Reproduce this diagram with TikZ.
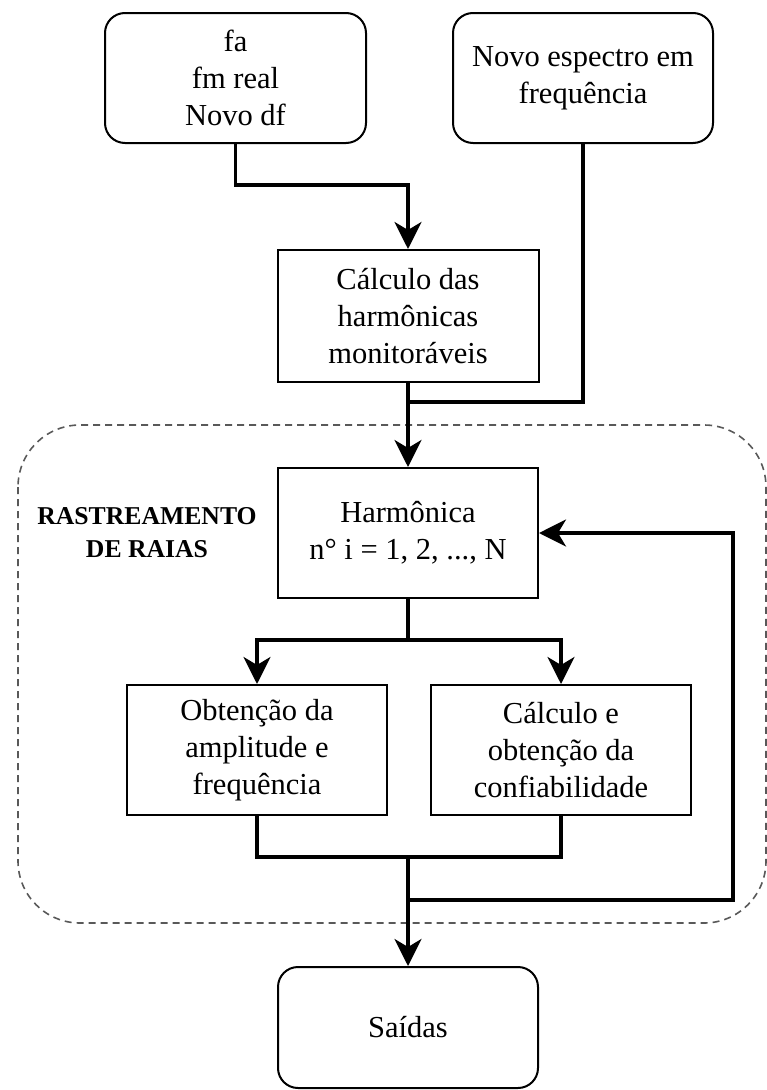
\documentclass[tikz,border=0pt]{standalone}
\usepackage{fontspec}
\setmainfont{Liberation Serif}
\usetikzlibrary{arrows.meta}
\begin{document}
\begin{tikzpicture}[x=1pt,y=-1pt,
  box/.style={draw,line width=2pt,fill=white,inner sep=0pt,minimum width=261pt,minimum height=130pt,align=center,font=\fontsize{30.5}{37}\selectfont},
  rbox/.style={box,rounded corners=20pt},
  conn/.style={line width=3.6pt},
  arr/.style={conn,-{Stealth[length=27pt,width=27pt,inset=8pt]}},
  region/.style={draw=black!65,dash pattern=on 7pt off 5pt,line width=1.6pt,rounded corners=62pt},
  lbl/.style={align=center,font=\fontsize{25.7}{33}\selectfont\bfseries}]
\useasboundingbox (0,0) rectangle (767,1090);
% dashed region
\draw[region] (18,425) rectangle (766,923);
\node[lbl] (rl) at (147,533) {RASTREAMENTO\\DE RAIAS};
% nodes
\node[rbox] (tl) at (235.5,78) {fa\\fm real\\Novo df};
\node[rbox,minimum width=260pt] (tr) at (583,78) {Novo espectro em\\frequência};
\node[box,minimum height=132pt] (calc) at (408,316) {Cálculo das\\harmônicas\\monitoráveis};
\node[box,minimum width=260pt] (harm) at (408,533) {Harmônica\\n° i = 1, 2, ..., N};
\node[box,minimum width=260pt] (left) at (257,750) {Obtenção da\\amplitude e\\frequência};
\node[box,minimum width=260pt] (right) at (561,750) {Cálculo e\\obtenção da\\confiabilidade};
\node[rbox,minimum width=260pt,minimum height=121pt] (out) at (408,1027.5) {Saídas};
% junction coordinates
\coordinate (k1) at (408,185);
\coordinate (j2) at (408,402);
\coordinate (b) at (408,640);
\coordinate (m) at (408,857);
\coordinate (f) at (408,900);
\coordinate (fr) at (733,900);
% connectors
\draw[arr] (tl.south) |- (k1) -- (calc.north);
\draw[conn] (tr.south) |- (j2);
\draw[arr] (calc.south) -- (harm.north);
\draw[conn] (harm.south) -- (b);
\draw[arr] (b) -| (left.north);
\draw[arr] (b) -| (right.north);
\draw[conn] (left.south) |- (m) -| (right.south);
\draw[arr] (m) -- (out.north);
\draw[arr] (f) -- (fr) |- (harm.east);
\end{tikzpicture}
\end{document}
